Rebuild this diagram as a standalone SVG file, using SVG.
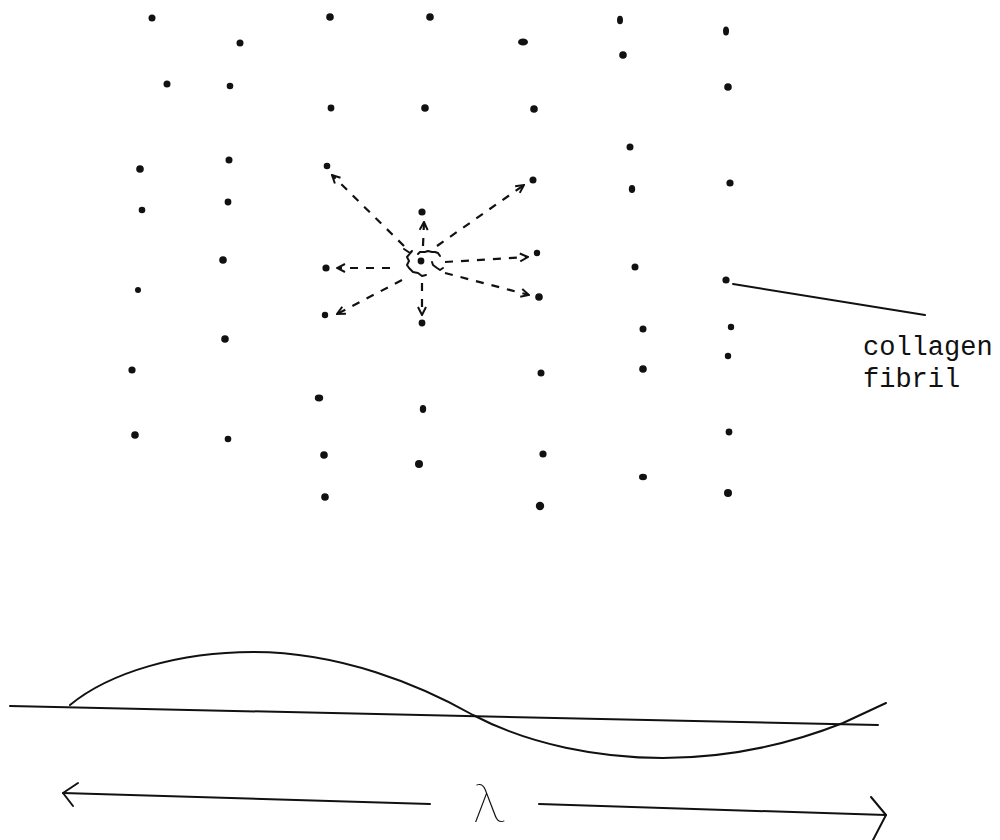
<svg xmlns="http://www.w3.org/2000/svg" width="1000" height="840" viewBox="0 0 1000 840">
<style>
.dot{fill:#111}
.ln{fill:none;stroke:#111;stroke-width:2;stroke-linecap:round;stroke-linejoin:round}
.dash{fill:none;stroke:#111;stroke-width:2.2;stroke-dasharray:8 8}
.lbl{font-family:"Liberation Mono","Courier New",monospace;font-size:27px;fill:#111}
.lam{font-family:"Inter","DejaVu Sans",sans-serif;font-weight:100;font-size:52px;fill:#111}
</style>
<defs>
<marker id="ah" viewBox="0 0 10 10" refX="9" refY="5" markerWidth="10" markerHeight="10" markerUnits="userSpaceOnUse" orient="auto">
<path d="M1,1 L9,5 L1,9" fill="none" stroke="#111" stroke-width="2" stroke-dasharray="none"/>
</marker>
</defs>
<rect width="1000" height="840" fill="#fff"/>
<g id="fibrils">
<circle class="dot" cx="152" cy="18" r="3.5"/>
<circle class="dot" cx="240" cy="43" r="3.5"/>
<circle class="dot" cx="330" cy="17" r="3.8"/>
<circle class="dot" cx="430" cy="17" r="3.8"/>
<ellipse class="dot" cx="523" cy="42" rx="5" ry="3.6"/>
<ellipse class="dot" cx="620" cy="20" rx="3" ry="4.3"/>
<ellipse class="dot" cx="726" cy="31" rx="3" ry="4.5"/>
<circle class="dot" cx="167" cy="84" r="3.5"/>
<circle class="dot" cx="230" cy="86" r="3.3"/>
<circle class="dot" cx="331" cy="108" r="3.4"/>
<circle class="dot" cx="425" cy="108" r="3.8"/>
<circle class="dot" cx="534" cy="109" r="3.8"/>
<circle class="dot" cx="623" cy="55" r="3.8"/>
<circle class="dot" cx="728" cy="87" r="3.8"/>
<circle class="dot" cx="630" cy="147" r="3.5"/>
<circle class="dot" cx="140" cy="169" r="3.8"/>
<circle class="dot" cx="229" cy="160" r="3.5"/>
<circle class="dot" cx="327" cy="166" r="3.3"/>
<circle class="dot" cx="533" cy="180" r="3.5"/>
<circle class="dot" cx="142" cy="210" r="3.3"/>
<circle class="dot" cx="228" cy="202" r="3.4"/>
<ellipse class="dot" cx="632" cy="189" rx="3.2" ry="3.9"/>
<circle class="dot" cx="730" cy="183" r="3.6"/>
<circle class="dot" cx="422" cy="212" r="3.6"/>
<circle class="dot" cx="223" cy="260" r="3.8"/>
<circle class="dot" cx="635" cy="267" r="3.5"/>
<circle class="dot" cx="726" cy="280" r="3.6"/>
<circle class="dot" cx="326" cy="268" r="3.6"/>
<circle class="dot" cx="421" cy="261" r="3.4"/>
<circle class="dot" cx="537" cy="253" r="3.2"/>
<circle class="dot" cx="138" cy="290" r="3"/>
<circle class="dot" cx="539" cy="297" r="3.8"/>
<circle class="dot" cx="325" cy="315" r="3.2"/>
<circle class="dot" cx="422" cy="323" r="3.4"/>
<circle class="dot" cx="643" cy="329" r="3.5"/>
<circle class="dot" cx="731" cy="327" r="3.2"/>
<circle class="dot" cx="728" cy="356" r="3.2"/>
<circle class="dot" cx="225" cy="339" r="3.8"/>
<circle class="dot" cx="643" cy="369" r="3.8"/>
<circle class="dot" cx="132" cy="370" r="3.6"/>
<circle class="dot" cx="541" cy="373" r="3.5"/>
<ellipse class="dot" cx="319" cy="398" rx="4.2" ry="3.4"/>
<ellipse class="dot" cx="423" cy="409" rx="3.2" ry="3.9"/>
<circle class="dot" cx="135" cy="435" r="3.8"/>
<circle class="dot" cx="228" cy="439" r="3.3"/>
<circle class="dot" cx="729" cy="432" r="3.4"/>
<circle class="dot" cx="324" cy="455" r="3.8"/>
<circle class="dot" cx="419" cy="464" r="4"/>
<circle class="dot" cx="543" cy="454" r="3.6"/>
<ellipse class="dot" cx="643" cy="477" rx="4" ry="3.3"/>
<circle class="dot" cx="325" cy="497" r="3.8"/>
<circle class="dot" cx="540" cy="506" r="4.2"/>
<circle class="dot" cx="728" cy="493" r="4"/>
</g>
<g id="center-squiggle">
<polyline class="ln" points="404,249 410,253 412,251 407,257 409,261 407,265 409,268 413,272 418,273 422,276 426,275"/>
<polyline class="ln" points="418,254 420,252 425,252 428,251 432,252 435,252 438,253 440,256"/>
<polyline class="ln" points="432,262 433,265 437,268 440,270 443,268"/>
</g>
<g id="connectors">
<line class="dash" x1="404" y1="246" x2="332" y2="175" marker-end="url(#ah)"/>
<line class="dash" x1="423" y1="246" x2="424" y2="222" marker-end="url(#ah)"/>
<line class="dash" x1="437" y1="246" x2="524" y2="185" marker-end="url(#ah)"/>
<line class="dash" x1="445" y1="262" x2="528" y2="257" marker-end="url(#ah)"/>
<line class="dash" x1="445" y1="273" x2="529" y2="295" marker-end="url(#ah)"/>
<line class="dash" x1="422" y1="283" x2="422" y2="315" marker-end="url(#ah)"/>
<line class="dash" x1="390" y1="268" x2="337" y2="268" marker-end="url(#ah)"/>
<line class="dash" x1="402" y1="280" x2="337" y2="314" marker-end="url(#ah)"/>
<line class="ln" x1="733" y1="284" x2="925" y2="315" stroke-width="1.6"/>
</g>
<g id="label">
<text class="lbl" x="863" y="355">collagen</text>
<text class="lbl" x="863" y="387">fibril</text>
</g>
<g id="wave">
<line class="ln" x1="10" y1="706" x2="878" y2="725"/>
<path class="ln" d="M70,705 C110,672 180,652 253,652 C340,652 420,685 473,715 C530,745 600,758 663,758 C740,758 800,740 843,723 C860,715 875,708 886,703"/>
</g>
<g id="wavelength">
<line class="ln" x1="430" y1="804" x2="63" y2="793"/>
<polyline class="ln" points="78,783 63,793 73,806"/>
<line class="ln" x1="539" y1="804" x2="886" y2="815"/>
<polyline class="ln" points="871,797 886,815 873,840"/>
<text class="lam" x="489" y="822" text-anchor="middle">λ</text>
</g>
</svg>
